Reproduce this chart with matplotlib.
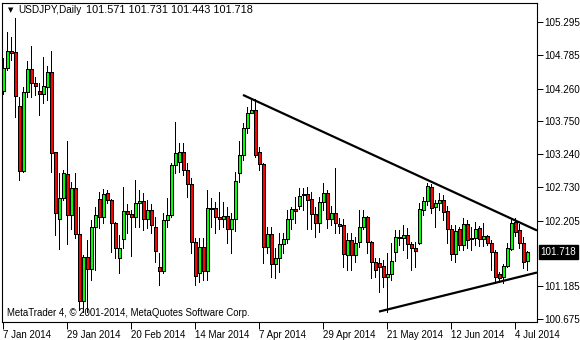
import numpy as np
import matplotlib.pyplot as plt
from matplotlib.transforms import blended_transform_factory

plt.rcParams['font.family'] = ['Liberation Sans', 'DejaVu Sans']

symbol = "USDJPY,Daily"

# daily OHLC, 7 Jan 2014 .. 9 Jul 2014 (one value per trading day)
opens = [104.221, 104.579, 104.844, 104.828, 103.988, 102.977, 104.206, 104.564, 104.346, 104.221,
         104.175, 104.284, 104.517, 103.272, 102.230, 102.557, 102.930, 102.292, 102.712, 101.997,
         100.955, 101.639, 101.452, 102.106, 102.541, 102.261, 102.635, 102.526, 102.168, 101.624,
         101.919, 102.355, 102.308, 102.261, 102.479, 102.510, 102.230, 102.370, 102.106, 101.483,
         101.421, 102.215, 102.292, 103.070, 103.117, 103.272, 102.992, 102.775, 101.872, 101.390,
         101.795, 101.421, 102.386, 102.401, 102.261, 102.230, 102.277, 102.075, 102.230, 102.946,
         103.226, 103.646, 103.879, 103.926, 103.272, 103.086, 101.795, 101.997, 101.530, 101.624,
         101.841, 101.919, 102.230, 102.386, 102.432, 102.604, 102.619, 102.541, 102.308, 102.168,
         102.495, 102.635, 102.230, 102.324, 102.152, 102.137, 101.670, 101.904, 101.670, 101.872,
         102.106, 102.261, 101.872, 101.561, 101.546, 101.499, 101.328, 101.375, 101.717, 101.935,
         101.935, 101.981, 101.841, 101.779, 101.857, 102.370, 102.510, 102.728, 102.417, 102.479,
         102.526, 102.355, 102.075, 101.686, 102.075, 101.826, 102.152, 101.935, 101.935, 102.090,
         101.919, 101.966, 101.857, 101.717, 101.375, 101.328, 101.499, 101.764, 102.184, 102.059,
         101.857, 101.571]
highs = [104.735, 105.139, 105.061, 105.357, 104.128, 104.284, 104.688, 104.921, 104.439, 104.346,
         104.750, 104.610, 104.844, 103.272, 102.946, 102.992, 103.444, 102.806, 102.946, 102.417,
         101.670, 101.904, 102.215, 102.417, 102.650, 102.697, 102.681, 102.541, 102.184, 101.981,
         102.728, 102.464, 102.370, 102.837, 102.681, 102.635, 102.526, 102.464, 102.261, 101.701,
         102.324, 102.557, 103.101, 103.739, 103.412, 103.412, 103.101, 102.868, 101.935, 101.935,
         101.935, 102.681, 102.557, 102.495, 102.650, 102.495, 102.417, 102.324, 102.961, 103.444,
         103.724, 103.973, 104.097, 104.097, 103.350, 103.101, 102.106, 102.106, 101.779, 102.012,
         102.012, 102.370, 102.417, 102.572, 102.712, 102.712, 102.728, 102.650, 102.417, 102.572,
         102.790, 102.681, 102.432, 103.024, 102.246, 102.230, 102.012, 102.012, 101.950, 102.370,
         102.370, 102.277, 101.888, 101.624, 101.624, 101.592, 101.701, 101.857, 102.059, 102.059,
         102.137, 102.090, 101.872, 101.872, 102.479, 102.572, 102.790, 102.775, 102.526, 102.635,
         102.604, 102.432, 102.137, 102.137, 102.106, 102.246, 102.215, 102.106, 102.184, 102.121,
         102.168, 101.981, 101.904, 101.748, 101.406, 101.530, 101.857, 102.246, 102.246, 102.152,
         101.950, 101.731]
lows = [104.175, 104.548, 104.704, 103.817, 102.837, 102.961, 104.128, 104.128, 104.159, 103.848,
        104.035, 104.081, 102.961, 101.981, 101.764, 102.526, 101.841, 102.075, 101.935, 100.815,
        100.784, 100.784, 101.281, 101.437, 102.090, 102.168, 102.479, 101.717, 101.624, 101.390,
        101.779, 102.012, 101.655, 102.106, 102.106, 102.059, 102.090, 102.012, 101.561, 101.204,
        101.390, 102.106, 102.261, 102.946, 102.961, 102.915, 102.572, 101.701, 101.204, 101.250,
        101.281, 101.281, 102.106, 102.012, 102.075, 102.106, 101.857, 101.701, 102.044, 102.806,
        103.148, 103.568, 103.879, 103.195, 102.992, 101.546, 101.701, 101.328, 101.312, 101.406,
        101.701, 101.857, 102.075, 102.168, 102.386, 102.370, 102.075, 102.075, 101.950, 102.028,
        102.370, 102.090, 102.137, 102.012, 102.012, 101.483, 101.437, 101.437, 101.561, 101.795,
        102.075, 101.701, 101.312, 101.328, 101.095, 101.172, 100.784, 101.281, 101.577, 101.826,
        101.748, 101.624, 101.437, 101.483, 101.841, 102.292, 102.448, 102.324, 102.106, 102.370,
        102.215, 101.857, 101.592, 101.561, 101.748, 101.748, 101.779, 101.748, 101.826, 101.810,
        101.810, 101.826, 101.437, 101.235, 101.250, 101.235, 101.483, 101.748, 101.966, 101.779,
        101.468, 101.443]
closes = [104.579, 104.844, 104.813, 104.144, 102.977, 104.206, 104.564, 104.346, 104.299, 104.175,
          104.299, 104.517, 103.257, 102.324, 102.557, 102.946, 102.292, 102.712, 101.997, 100.955,
          101.639, 101.452, 102.106, 102.292, 102.261, 102.619, 102.526, 102.168, 101.779, 101.779,
          102.355, 102.308, 102.261, 102.479, 102.510, 102.230, 102.370, 102.137, 101.732, 101.421,
          102.215, 102.292, 103.070, 103.257, 103.272, 102.992, 102.775, 101.872, 101.344, 101.795,
          101.421, 102.401, 102.401, 102.261, 102.230, 102.277, 102.075, 102.230, 102.821, 103.226,
          103.646, 103.879, 103.926, 103.226, 103.086, 101.795, 101.997, 101.530, 101.624, 101.841,
          101.919, 102.230, 102.386, 102.355, 102.588, 102.619, 102.526, 102.308, 102.168, 102.495,
          102.635, 102.230, 102.324, 102.168, 102.121, 101.686, 101.904, 101.670, 101.857, 102.106,
          102.261, 101.872, 101.561, 101.437, 101.483, 101.328, 101.375, 101.577, 101.950, 101.950,
          101.981, 101.841, 101.779, 101.732, 102.386, 102.510, 102.744, 102.401, 102.479, 102.526,
          102.339, 102.075, 101.686, 102.044, 101.826, 102.152, 101.904, 101.919, 102.075, 101.919,
          101.966, 101.857, 101.717, 101.328, 101.312, 101.499, 101.779, 102.168, 102.028, 101.857,
          101.561, 101.718]

date_ticks = [0, 16, 32, 48, 64, 80, 96, 112, 128]
date_labels = ["7 Jan 2014", "29 Jan 2014", "20 Feb 2014", "14 Mar 2014", "7 Apr 2014",
               "29 Apr 2014", "21 May 2014", "12 Jun 2014", "4 Jul 2014"]
price_ticks = [105.295, 104.785, 104.260, 103.750, 103.240, 102.730, 102.205, 101.185, 100.675]

# trend lines: two anchor points each (bar index, price), drawn as rays to the right
upper_line = ([60, 123], [104.16, 102.353])
lower_line = ([94, 125], [100.79, 101.267])

bull = '#00ff00'
bear = '#ff0000'

fig = plt.figure(figsize=(5.8, 3.4), dpi=100)
ax = fig.add_axes([2 / 580, 18 / 340, 535 / 580, 319.5 / 340])

o = np.array(opens)
h = np.array(highs)
l = np.array(lows)
c = np.array(closes)
idx = np.arange(len(o))

ax.vlines(idx, l, h, color='black', lw=0.72, zorder=1, antialiased=False)
colors = [bull if cc >= oo else bear for oo, cc in zip(o, c)]
ax.bar(idx, np.abs(c - o), bottom=np.minimum(o, c), width=0.75,
       color=colors, edgecolor='black', linewidth=0.65, zorder=2, antialiased=False)

xmin, xmax = -0.25, 133.5
for (xs, ys) in (upper_line, lower_line):
    slope = (ys[1] - ys[0]) / (xs[1] - xs[0])
    ax.plot([xs[0], xmax], [ys[0], ys[0] + slope * (xmax - xs[0])],
            color='black', lw=1.6, solid_capstyle='butt', zorder=3)

ax.set_xlim(xmin, xmax)
ax.set_ylim(100.628, 105.598)

ax.yaxis.tick_right()
ax.set_yticks(price_ticks)
ax.set_yticklabels([f"{p:.3f}" for p in price_ticks])
ax.set_xticks(date_ticks)
ax.set_xticklabels(date_labels, ha='left')
ax.tick_params(axis='y', length=4, width=0.7, pad=1, labelsize=7.1)
ax.tick_params(axis='x', length=5, width=0.7, pad=1, labelsize=7)
for s in ax.spines.values():
    s.set_linewidth(0.8)

# current price label
trans = blended_transform_factory(ax.transAxes, ax.transData)
ax.text(1.007, c[-1], f"{c[-1]:.3f}", transform=trans, color='white', fontsize=7.1,
        ha='left', va='center',
        bbox=dict(boxstyle='square,pad=0.2', fc='black', ec='black'))

fig.text(8 / 580, 1 - 10 / 340, "\u25bc", fontsize=5, family='DejaVu Sans', va='center')
fig.text(18 / 580, 1 - 10 / 340, symbol, fontsize=7.2, va='center')
fig.text(86 / 580, 1 - 10 / 340,
         f"{o[-1]:.3f} {h[-1]:.3f} {l[-1]:.3f} {c[-1]:.3f}",
         fontsize=7.8, va='center')
fig.text(7 / 580, 1 - 313 / 340, "MetaTrader 4, \u00a9 2001-2014, MetaQuotes Software Corp.",
         fontsize=6.9, va='center')

fig.savefig("out.png", dpi=100)
